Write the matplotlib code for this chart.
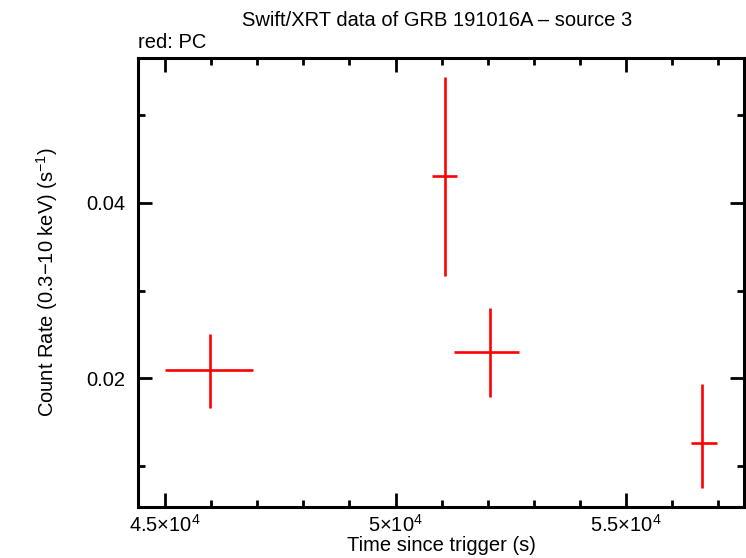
import numpy as np
import matplotlib
matplotlib.use("Agg")
import matplotlib.pyplot as plt
from matplotlib.ticker import MultipleLocator, FixedLocator, FixedFormatter

plt.rcParams['font.family'] = ['Liberation Sans', 'DejaVu Sans']
plt.rcParams['mathtext.fontset'] = 'custom'
plt.rcParams['mathtext.rm'] = 'Liberation Sans'
plt.rcParams['mathtext.it'] = 'Liberation Sans'

# datos (modo PC)
t = [45983, 51080, 52056, 56642]
t_lo = [45000, 50792, 51269, 56410]
t_hi = [46909, 51334, 52679, 56974]
rate = [0.02091, 0.04303, 0.02296, 0.01262]
rate_lo = [0.01665, 0.03170, 0.01790, 0.00749]
rate_hi = [0.02509, 0.05432, 0.02802, 0.01932]

xticks = [45000, 50000, 55000]
xlabels = [r'4.5$\times$10$^{4}$', r'5$\times$10$^{4}$', r'5.5$\times$10$^{4}$']

t = np.array(t)
rate = np.array(rate)
xerr = [t - np.array(t_lo), np.array(t_hi) - t]
yerr = [rate - np.array(rate_lo), np.array(rate_hi) - rate]

fs = 14.5

fig = plt.figure(figsize=(7.46, 5.58), dpi=100)
ax = fig.add_axes([138/746, 1-507/558, 606/746, 449/558])

ax.errorbar(t, rate, xerr=xerr, yerr=yerr, fmt='none', ecolor='#ff0000', elinewidth=1.9, capsize=0)

ax.set_xlim(44414, 57560)
ax.set_ylim(0.00532, 0.05652)

ax.xaxis.set_major_locator(FixedLocator(xticks))
ax.xaxis.set_major_formatter(FixedFormatter(xlabels))
ax.xaxis.set_minor_locator(MultipleLocator(1000))
ax.yaxis.set_major_locator(MultipleLocator(0.02))
ax.yaxis.set_minor_locator(MultipleLocator(0.01))

ax.tick_params(which='both', direction='in', top=True, right=True, width=2, labelsize=fs)
ax.tick_params(which='major', length=10)
ax.tick_params(axis='x', which='major', pad=5)
ax.tick_params(axis='y', which='major', pad=9)
ax.tick_params(which='minor', length=5)
for s in ax.spines.values():
    s.set_linewidth(2.2)

ax.set_xlabel('Time since trigger (s)', fontsize=fs, labelpad=0)
ax.set_ylabel('Count Rate (0.3$-$10 keV) (s$^{-1}$)', fontsize=fs, labelpad=19)
fig.text(437/746, 1-20/558, 'Swift/XRT data of GRB 191016A \u2013 source 3', ha='center', va='center', fontsize=fs)
fig.text(138/746, 1-42/558, 'red: PC', ha='left', va='center', fontsize=fs)

plt.savefig('out.png', dpi=100)
plt.close()
